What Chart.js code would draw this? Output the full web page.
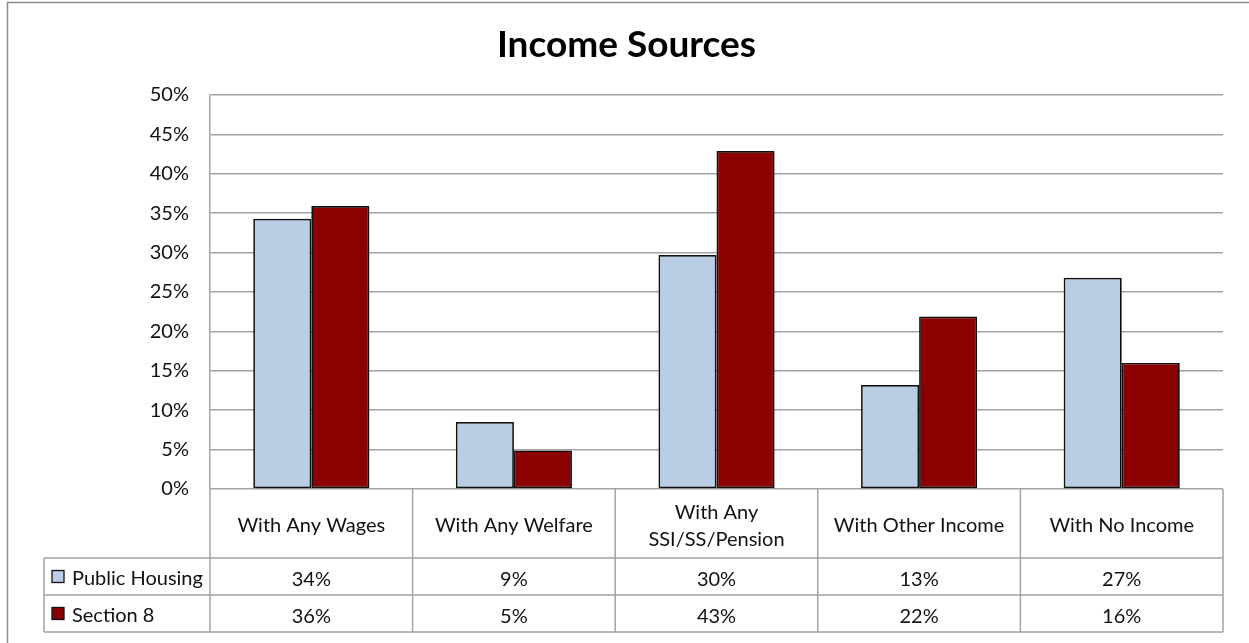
<!DOCTYPE html>
<html>
<head>
<meta charset="utf-8">
<script src="https://cdn.jsdelivr.net/npm/chart.js@4"></script>
<style>
  html, body { margin: 0; padding: 0; background: #fff; }
  #wrap { width: 1249px; height: 643px; }
</style>
</head>
<body>
<div id="wrap"><canvas id="chart" width="1249" height="643"></canvas></div>
<script>
const categories = ['With Any Wages', 'With Any Welfare', ['With Any', 'SSI/SS/Pension'], 'With Other Income', 'With No Income'];
const seriesNames = ['Public Housing', 'Section 8'];
const publicHousing = [34.3, 8.5, 29.7, 13.2, 26.8];
const section8 = [35.9, 4.9, 42.9, 21.9, 16.0];
const yTicks = [0, 5, 10, 15, 20, 25, 30, 35, 40, 45, 50];

const FONT = 'Lato, "Open Sans", sans-serif';
const colors = ['#b9cde5', '#8b0000'];
const gridColor = '#a3a3a3';

// outer frame, bar shadow and the data table under the plot
const tablePlugin = {
  id: 'dataTable',
  beforeDatasetsDraw(chart) {
    const ctx = chart.ctx;
    ctx.save();
    ctx.shadowColor = 'rgba(0,0,0,0.3)';
    ctx.shadowBlur = 3;
    ctx.shadowOffsetX = 1.5;
    ctx.shadowOffsetY = 1.5;
  },
  afterDatasetsDraw(chart) {
    chart.ctx.restore();
  },
  afterDraw(chart) {
    const ctx = chart.ctx;
    const area = chart.chartArea;
    const n = categories.length;
    const colW = area.width / n;
    const catBottom = area.bottom + 69;
    const rowH = 37;
    const legendLeft = 44;

    ctx.save();
    // frame
    ctx.strokeStyle = '#8c8c8c';
    ctx.lineWidth = 1.5;
    ctx.strokeRect(7.5, 2.5, 1300, 700);

    ctx.strokeStyle = gridColor;
    ctx.lineWidth = 1.5;
    ctx.beginPath();
    for (let i = 0; i <= n; i++) {
      const x = area.left + i * colW;
      ctx.moveTo(x, area.bottom);
      ctx.lineTo(x, catBottom + 2 * rowH);
    }
    for (let r = 0; r <= 2; r++) {
      const y = catBottom + r * rowH;
      ctx.moveTo(legendLeft, y);
      ctx.lineTo(area.right, y);
    }
    ctx.moveTo(legendLeft, catBottom);
    ctx.lineTo(legendLeft, catBottom + 2 * rowH);
    ctx.stroke();

    ctx.fillStyle = '#111';
    ctx.font = '20px ' + FONT;
    ctx.textAlign = 'center';
    ctx.textBaseline = 'middle';
    categories.forEach((label, i) => {
      const cx = chart.scales.x.getPixelForValue(i);
      const lines = Array.isArray(label) ? label : [label];
      const mid = area.bottom + 37;
      lines.forEach((t, k) => {
        ctx.fillText(t, cx, mid + (k - (lines.length - 1) / 2) * 27);
      });
    });

    const series = [publicHousing, section8];
    series.forEach((vals, r) => {
      const cy = catBottom + r * rowH + rowH / 2 + 2;
      vals.forEach((v, i) => {
        ctx.textAlign = 'center';
        ctx.fillText(Math.round(v) + '%', chart.scales.x.getPixelForValue(i), cy + 1);
      });
      ctx.fillStyle = colors[r];
      ctx.fillRect(52, cy - 8, 12, 12);
      ctx.strokeStyle = '#111';
      ctx.lineWidth = 1.3;
      ctx.strokeRect(52, cy - 8, 12, 12);
      ctx.fillStyle = '#111';
      ctx.textAlign = 'left';
      ctx.fillText(seriesNames[r], 72, cy);
    });
    ctx.restore();
  }
};

new Chart(document.getElementById('chart'), {
  type: 'bar',
  data: {
    labels: categories,
    datasets: [
      { label: seriesNames[0], data: publicHousing, backgroundColor: colors[0], borderColor: '#111', borderWidth: 1.7 },
      { label: seriesNames[1], data: section8, backgroundColor: colors[1], borderColor: '#111', borderWidth: 1.7 }
    ]
  },
  options: {
    responsive: false,
    animation: false,
    events: [],
    layout: { padding: { left: 30, top: 0, right: 26, bottom: 154 } },
    datasets: { bar: { categoryPercentage: 0.573, barPercentage: 1.0, borderSkipped: false } },
    plugins: {
      legend: { display: false },
      tooltip: { enabled: false },
      title: {
        display: true,
        text: 'Income Sources',
        color: '#000',
        font: { family: FONT, size: 37, weight: 'bold', lineHeight: 1.2 },
        padding: { top: 23, bottom: 27.6 }
      }
    },
    scales: {
      x: {
        display: false,
        grid: { display: false }
      },
      y: {
        min: 0,
        max: 50,
        afterBuildTicks: scale => { scale.ticks = yTicks.map(v => ({ value: v })); },
        afterFit: scale => { scale.width = 180; },
        grid: { color: gridColor, lineWidth: 1.5, drawTicks: false },
        border: { display: true, color: gridColor, width: 1.5 },
        ticks: {
          padding: 21,
          color: '#111',
          font: { family: FONT, size: 20 },
          callback: v => v + '%'
        }
      }
    }
  },
  plugins: [tablePlugin]
});
</script>
</body>
</html>
